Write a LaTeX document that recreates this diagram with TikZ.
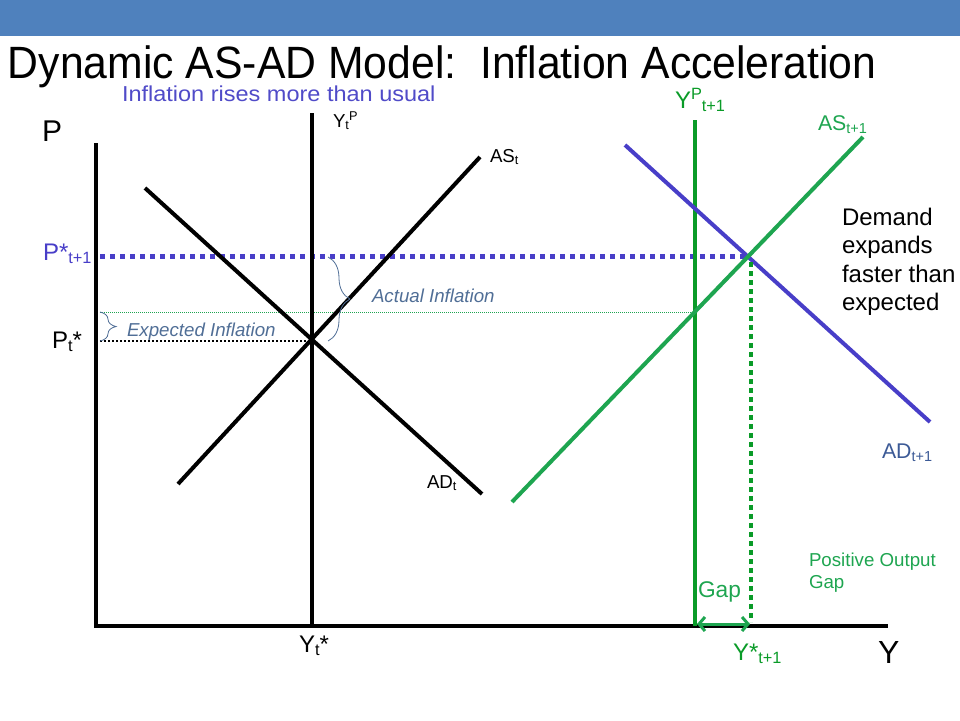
\documentclass[tikz,border=0pt]{standalone}
\usepackage{fontspec}
\setmainfont{Liberation Sans}
\usepackage{graphicx}
\usetikzlibrary{arrows.meta,decorations.pathreplacing}
\definecolor{band}{HTML}{4F81BD}
\definecolor{bluec}{RGB}{72,62,200}
\definecolor{bluetxt}{RGB}{80,75,200}
\definecolor{greenc}{RGB}{30,165,80}
\definecolor{dgreen}{RGB}{10,155,40}
\definecolor{steel}{RGB}{60,90,150}
\definecolor{bracec}{RGB}{80,110,150}
\newcommand\dn[1]{\raisebox{-0.3ex}{\scalebox{0.68}{#1}}}
\newcommand\up[1]{\raisebox{0.7ex}{\scalebox{0.68}{#1}}}
\newcommand\fs[1]{\fontsize{#1}{#1}\selectfont}
\begin{document}
\begin{tikzpicture}[x=1pt,y=-1pt,
  lbl/.style={inner sep=0pt,outer sep=0pt,anchor=base west},
  axisline/.style={line width=4.5pt,black},
  curve/.style={line width=4pt},
  bracedeco/.style={decorate,decoration={brace,amplitude=#1},draw=bracec,line width=0.8pt},
]
\useasboundingbox (0,0) rectangle (960,720);
\fill[band] (0,0) rectangle (960,36);
% title
\node[lbl] (title) at (8,78) {\scalebox{1}[1.06]{\fs{42.7}Dynamic AS-AD Model:\ \ Inflation Acceleration}};
\node[lbl,text=bluetxt] (rises) at (122,101) {\scalebox{1}[0.92]{\fs{23.5}Inflation rises more than usual}};
% coordinates
\coordinate (ytop) at (96,143);
\coordinate (orig) at (96,626);
\coordinate (xend) at (888,626);
\coordinate (ypt) at (312,113);
\coordinate (ypb) at (312,626);
\coordinate (adtA) at (145,188);
\coordinate (adtB) at (482,494);
\coordinate (astA) at (178,484);
\coordinate (astB) at (480,157);
\coordinate (ypnT) at (695,120);
\coordinate (ypnB) at (695,626);
\coordinate (adnA) at (625,145);
\coordinate (adnB) at (930,422);
\coordinate (asnA) at (512,502);
\coordinate (asnB) at (863,137);
\coordinate (pnL) at (100,256);
\coordinate (pnR) at (750,256);
\coordinate (ysnT) at (751,262);
\coordinate (ysnB) at (751,622);
\coordinate (ptL) at (100,341);
\coordinate (ptR) at (310,341);
\coordinate (gL) at (100,312);
\coordinate (gR) at (695,312);
\coordinate (gapL) at (697,624);
\coordinate (gapR) at (750,624);
% thin dotted lines
\draw[greenc,line width=0.7pt,dash pattern=on 1pt off 1pt] (gL) -- (gR);
\draw[black,line width=2pt,dash pattern=on 2pt off 2pt] (ptL) -- (ptR);
\draw[bluec,line width=5pt,dash pattern=on 5pt off 5pt] (pnL) -- (pnR);
% axes
\draw[axisline] (ytop) -- (orig) -- (xend);
% period t
\draw[curve,black] (ypt) -- (ypb);
\draw[curve,black] (adtA) -- (adtB);
\draw[curve,black] (astA) -- (astB);
% period t+1
\draw[curve,dgreen] (ypnT) -- (ypnB);
\draw[curve,bluec] (adnA) -- (adnB);
\draw[curve,greenc] (asnA) -- (asnB);
\draw[dgreen,line width=4pt,dash pattern=on 5pt off 4pt] (ysnT) -- (ysnB);
\draw[greenc,line width=3pt,{Straight Barb[length=6pt,width=14pt]}-{Straight Barb[length=6pt,width=14pt]}] (gapL) -- (gapR);
% braces
\draw[bracedeco=16pt] (100,312) -- (100,341);
\draw[bracedeco=22pt] (328,257) -- (328,341);
% labels
\node[lbl] (Plab) at (42,141) {\fs{30}P};
\node[lbl] (Ylab) at (878,663) {\fs{32}Y};
\node[lbl] (ytp) at (333,127) {\fs{18.7}Y\dn{t}\up{P}};
\node[lbl] (ast) at (490,162) {\fs{18.7}AS\dn{t}};
\node[lbl] (adt) at (427,488) {\fs{18.7}AD\dn{t}};
\node[lbl,text=bluec] (pn) at (43,260) {\fs{24}P*\dn{t+1}};
\node[lbl] (pt) at (52,348) {\fs{24}P\dn{t}*};
\node[lbl] (yt) at (299,652) {\fs{24}Y\dn{t}*};
\node[lbl,text=dgreen] (ypn) at (675,108) {\fs{24}Y\up{P}\dn{t+1}};
\node[lbl,text=greenc] (asn) at (818,130) {\fs{21.3}AS\dn{t+1}};
\node[lbl,text=steel] (adn) at (882,458) {\fs{21.3}AD\dn{t+1}};
\node[lbl,text=dgreen] (ysn) at (733,660) {\fs{24}Y*\dn{t+1}};
\node[lbl,text=greenc] (gap) at (698,597) {\fs{22.7}Gap};
\node[lbl,text=greenc,align=left,anchor=north west,font=\fontsize{18.7}{22}\selectfont] (pog) at (809,553) {Positive Output\\Gap};
\node[lbl,align=left,anchor=north west,font=\fontsize{24}{28.5}\selectfont] (dem) at (842,208) {Demand\\expands\\faster than\\expected};
\node[lbl,text=bracec] (exp) at (127,336) {\fs{18.7}\itshape Expected Inflation};
\node[lbl,text=bracec] (act) at (372,302) {\fs{18.7}\itshape Actual Inflation};
\end{tikzpicture}
\end{document}
